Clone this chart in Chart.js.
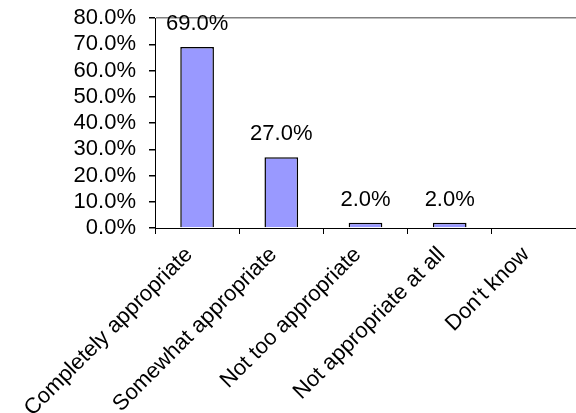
<!DOCTYPE html>
<html>
<head>
<meta charset="utf-8">
<script src="https://cdn.jsdelivr.net/npm/chart.js@4/dist/chart.umd.min.js"></script>
<style>
  html, body { margin: 0; padding: 0; background: #fff; }
  #wrap { width: 576px; height: 413px; }
</style>
</head>
<body>
<div id="wrap"><canvas id="answerChart"></canvas></div>
<script>
const categories = ['Completely appropriate', 'Somewhat appropriate', 'Not too appropriate', 'Not appropriate at all', "Don't know"];
const shares = [0.69, 0.27, 0.02, 0.02, 0];
const yTicks = [0, 0.1, 0.2, 0.3, 0.4, 0.5, 0.6, 0.7, 0.8];

const FONT = 'Liberation Sans, Arial, sans-serif';

// value labels above the bars
const barLabels = {
    id: 'barLabels',
    afterDatasetsDraw(chart) {
        const ctx = chart.ctx;
        const meta = chart.getDatasetMeta(0);
        ctx.save();
        ctx.font = '22px ' + FONT;
        ctx.fillStyle = '#000';
        ctx.textAlign = 'center';
        ctx.textBaseline = 'middle';
        meta.data.forEach((bar, i) => {
            if (!shares[i]) return;
            ctx.fillText((shares[i] * 100).toFixed(1) + '%', bar.x, bar.y - 23);
        });
        ctx.restore();
    }
};

new Chart(document.getElementById('answerChart'), {
    type: 'bar',
    data: {
        labels: categories,
        datasets: [{
            data: shares,
            backgroundColor: '#9999FF',
            borderColor: '#000',
            borderWidth: 1.5,
            categoryPercentage: 1,
            barPercentage: 0.4
        }]
    },
    options: {
        responsive: true,
        maintainAspectRatio: false,
        animation: false,
        layout: { padding: { top: 18, right: 0, left: 0, bottom: 0 } },
        plugins: {
            legend: { display: false },
            tooltip: { enabled: false }
        },
        scales: {
            x: {
                border: { color: '#000', width: 1 },
                grid: { offset: true, drawOnChartArea: false, tickLength: 6, tickColor: '#000' },
                ticks: {
                    color: '#000',
                    font: { family: FONT, size: 22 },
                    minRotation: 45,
                    maxRotation: 45,
                    labelOffset: -8,
                    padding: 8
                },
                afterFit(scale) {
                    scale.height = 185;
                    scale.paddingLeft = 0;
                    scale.paddingRight = 0;
                }
            },
            y: {
                min: 0,
                max: 0.8,
                afterBuildTicks(scale) { scale.ticks = yTicks.map(v => ({ value: v })); },
                border: { color: '#000', width: 1 },
                grid: {
                    color: c => (c.tick && c.tick.value === 0.8 ? '#808080' : 'transparent'),
                    tickColor: '#000',
                    tickLength: 6,
                    lineWidth: 1.5
                },
                ticks: {
                    autoSkip: false,
                    color: '#000',
                    font: { family: FONT, size: 22 },
                    padding: 13,
                    callback: v => (v * 100).toFixed(1) + '%'
                },
                afterFit(scale) {
                    scale.width = 155;
                    scale.paddingTop = 0;
                    scale.paddingBottom = 0;
                }
            }
        }
    },
    plugins: [barLabels]
});
</script>
</body>
</html>
